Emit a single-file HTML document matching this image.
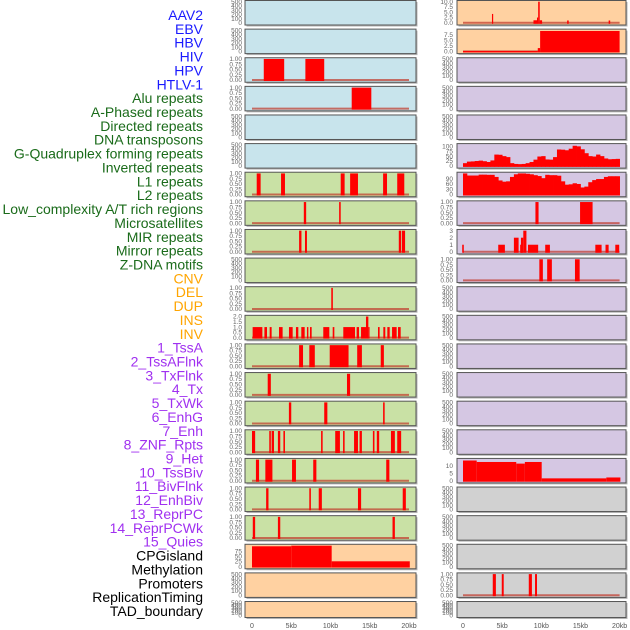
<!DOCTYPE html>
<html><head><meta charset="utf-8"><style>
html,body{margin:0;padding:0;background:#fff;}
svg{display:block;font-family:"Liberation Sans",sans-serif;}
</style></head><body>
<svg id="chart" width="630" height="630" viewBox="0 0 630 630" xmlns="http://www.w3.org/2000/svg"></svg>
<script>
// ---------- data ----------
const trackLabels = ["AAV2","EBV","HBV","HIV","HPV","HTLV-1","Alu repeats","A-Phased repeats","Directed repeats","DNA transposons","G-Quadruplex forming repeats","Inverted repeats","L1 repeats","L2 repeats","Low_complexity A/T rich regions","Microsatellites","MIR repeats","Mirror repeats","Z-DNA motifs","CNV","DEL","DUP","INS","INV","1_TssA","2_TssAFlnk","3_TxFlnk","4_Tx","5_TxWk","6_EnhG","7_Enh","8_ZNF_Rpts","9_Het","10_TssBiv","11_BivFlnk","12_EnhBiv","13_ReprPC","14_ReprPCWk","15_Quies","CPGisland","Methylation","Promoters","ReplicationTiming","TAD_boundary"];
const labelGroups = ["v","v","v","v","v","v","r","r","r","r","r","r","r","r","r","r","r","r","r","c","c","c","c","c","h","h","h","h","h","h","h","h","h","h","h","h","h","h","h","o","o","o","o","o"];
const xTickValues = [0,5,10,15,20];
const xTickLabels = ["0","5kb","10kb","15kb","20kb"];

// left column intervals (kb)
const hivIntervals = [[1.5,4.1],[6.8,9.2]];
const aluIntervals = [[12.7,15.2]];
const l1Intervals = [[0.6,1.1],[3.7,4.2],[11.3,11.8],[12.5,13.5],[16.7,17.2],[18.5,19.4]];
const row7Intervals = [[6.6,6.9],[11.1,11.3]];
const row8Intervals = [[6.0,6.3],[6.75,7.0],[18.7,19.0],[19.1,19.5]];
const row10Intervals = [[10.1,10.3]];
const insStarts = [0.08,1.58,2.25,3.44,4.71,5.6,6.28,7.0,7.39,9.08,10.28,11.63,13.33,13.89,14.52,14.82,16.05,16.73,17.24,17.84,18.6];
const insEnds   = [1.32,1.91,2.5,3.9,5.18,5.9,6.71,7.18,7.6,9.85,10.49,13.12,13.63,14.52,14.82,14.95,16.26,16.98,17.54,18.43,18.94];
const insValues = [1,1,1,1,1,1,1,1,1,1,1,1,1,1,2,1,1,1,1,1,1];
const tssAIntervals = [[6.0,6.5],[7.3,8.0],[9.9,12.3],[13.4,14.0],[16.4,16.8]];
const row13Intervals = [[2.0,2.4],[12.1,12.5]];
const row14Intervals = [[4.7,5.0],[9.2,9.6],[16.7,16.9]];
const row15Intervals = [[0.0,0.4],[2.2,2.4],[2.5,2.8],[3.3,3.6],[4.0,4.2],[8.8,9.0],[10.6,11.2],[11.6,11.8],[13.0,13.5],[13.7,14.0],[15.4,15.6],[15.9,16.2],[17.7,18.2],[18.5,19.0]];
const row16Intervals = [[0.5,0.9],[1.7,2.6],[5.1,5.6],[7.8,8.2],[17.1,17.5]];
const row17Intervals = [[1.8,2.1],[7.3,7.5],[8.5,8.9],[13.5,13.9],[19.2,19.6]];
const row18Intervals = [[0.1,0.4],[3.3,3.6],[17.9,18.2]];
const cpgStarts = [0,5,10.15];
const cpgEnds = [5,10.15,20.1];
const cpgValues = [100,103,26];

// right column
const aavStarts = [3.7,9.0,9.45,9.6,9.8,13.3,18.6];
const aavEnds = [3.85,9.45,9.6,9.8,10.1,13.5,18.8];
const aavValues = [4.2,1.2,2.5,10,1.2,1.1,1.1];
const ebvStarts = [0,9.55,9.85];
const ebvEnds = [9.55,9.85,20];
const ebvValues = [0.2,1.5,9.2];
const gquadBinValues = [14,22,23,25,27,24,20,28,58,57,50,45,14,10,9,10,14,20,32,48,50,33,32,45,84,83,80,88,103,100,85,65,50,48,58,50,38,34,35,36];
const l1DensityValues = [120,108,108,108,113,113,112,112,100,80,73,75,100,115,120,120,118,115,110,105,93,112,110,110,107,75,56,58,64,60,40,45,70,82,88,88,100,104,104,104];
const lowCompIntervals = [[9.25,9.65],[14.95,16.55]];
const mirStarts = [-0.1,4.5,6.5,7.3,7.4,7.7,8.3,10.5,16.9,18.2,19.45];
const mirEnds = [0.1,5.35,7.1,7.6,7.7,8.1,9.6,11.1,17.7,18.6,19.95];
const mirValues = [1,1,2,1,2,3,1,1,1,1,1];
const zdnaIntervals = [[9.75,10.2],[10.75,11.35],[14.3,14.9]];
const hetStarts = [0,1.75,6.8,7.9,10.05,18.3];
const hetEnds = [1.75,6.8,7.9,10.05,18.3,20.1];
const hetValues = [13.7,12.7,11.6,12.7,1.6,2.2];
const promoterIntervals = [[3.8,4.2],[4.95,5.2],[8.4,8.8],[9.2,9.45]];

// ---------- layout ----------
const svg = document.getElementById('chart');
const NS = "http://www.w3.org/2000/svg";
const rowPitch = 28.62;
const colDefs = [{x0:245,x1:416,origin:252,perKb:7.85,tickX:242},{x0:457,x1:626,origin:463,perKb:7.83,tickX:453}];
const bgColors = {b:"#c8e4ec",p:"#ffd1a1",u:"#d5c7e3",g:"#c9e1a5",y:"#d1d1d1"};
const leftBg = "bbbbbbgggggggggggggppp";
const rightBg = "ppuuuuuuuuuuuuuuuyyyyy";
const groupColors = {v:"#1a1aff",r:"#1a6b1a",c:"#ffa500",h:"#a030f0",o:"#000000"};

function mk(tag, attrs, parent){const e=document.createElementNS(NS,tag);for(const k in attrs)e.setAttribute(k,attrs[k]);(parent||svg).appendChild(e);return e;}
function rowTop(i){return 0.5+i*rowPitch;}
function rowH(i){return i===21?16:24.5;}
function xS(col,kb){const c=colDefs[col];return c.origin+kb*c.perKb;}
function yS(row,v,ymax){const t=rowTop(row)+1.2,b=rowTop(row)+rowH(row)-2.2;return b-(v/ymax)*(b-t);}

// labels
trackLabels.forEach((t,i)=>{
  const e=mk('text',{x:203,y:20+i*13.86,'text-anchor':'end','font-size':'14',fill:groupColors[labelGroups[i]]});
  e.textContent=t;
  
  
});

const panels = {};
function drawPanel(row,col){
  const c=colDefs[col],t=rowTop(row),h=rowH(row);
  const g=mk('g',{});
  
  
  mk('rect',{x:c.x0+1.5,y:t+1.5,width:c.x1-c.x0,height:h,fill:"#b5b5b5"},g);
  mk('rect',{x:c.x0,y:t,width:c.x1-c.x0,height:h,fill:bgColors[(col?rightBg:leftBg)[row]],stroke:"#555",'stroke-width':1},g);
  panels[row+'_'+col]=g;
  return g;
}
function ticks(row,col,vals,labels,ymax){
  const g=panels[row+'_'+col];
  vals.forEach((v,k)=>{
    const e=mk('text',{x:colDefs[col].tickX,y:yS(row,v,ymax)+2.2,'text-anchor':'end','font-size':'6.5',fill:"#666"},g);
    e.textContent=labels[k];
    
    
  });
}
function baseline(row,col,ymax){
  mk('line',{x1:xS(col,0),x2:xS(col,20),y1:yS(row,0,ymax),y2:yS(row,0,ymax),stroke:"#c0392b",'stroke-opacity':0.7,'stroke-width':2},panels[row+'_'+col]);
}
function bars(row,col,starts,ends,values,ymax){
  const g=panels[row+'_'+col];
  starts.forEach((s,k)=>{
    const x=xS(col,s),w=Math.max(1.2,xS(col,ends[k])-x),y=yS(row,values[k],ymax);
    const r=mk('rect',{x:x,y:y,width:w,height:yS(row,0,ymax)-y+1,fill:"#ff0000"},g);
    
    
  });
}
function intervals(row,col,list){
  bars(row,col,list.map(d=>d[0]),list.map(d=>d[1]),list.map(()=>1),1);
}
function binned(row,col,vals,ymax){
  bars(row,col,vals.map((v,k)=>k*0.5),vals.map((v,k)=>k*0.5+0.55),vals,ymax);
}
const binT=[0,0.25,0.5,0.75,1],binL=["0.00","0.25","0.50","0.75","1.00"];
const emT=[0,100,200,300,400,500],emL=["0","100","200","300","400","500"];

for(let r=0;r<22;r++){drawPanel(r,0);drawPanel(r,1);}

// left column
const leftBinary={2:hivIntervals,3:aluIntervals,6:l1Intervals,7:row7Intervals,8:row8Intervals,10:row10Intervals,12:tssAIntervals,13:row13Intervals,14:row14Intervals,15:row15Intervals,16:row16Intervals,17:row17Intervals,18:row18Intervals};
for(let r=0;r<22;r++){
  if(leftBinary[r]){baseline(r,0,1);intervals(r,0,leftBinary[r]);ticks(r,0,binT,binL,1);}
  else if(r===11){baseline(r,0,2);bars(r,0,insStarts,insEnds,insValues,2);ticks(r,0,[0,0.5,1,1.5,2],["0.0","0.5","1.0","1.5","2.0"],2);}
  else if(r===19){bars(r,0,cpgStarts,cpgEnds,cpgValues,104);ticks(r,0,[0,25,50,75],["0","25","50","75"],104);}
  else ticks(r,0,emT,emL,500);
}
// right column
const rightBinary={7:lowCompIntervals,9:zdnaIntervals,20:promoterIntervals};
for(let r=0;r<22;r++){
  if(rightBinary[r]){baseline(r,1,1);intervals(r,1,rightBinary[r]);ticks(r,1,binT,binL,1);}
  else if(r===0){baseline(r,1,10);bars(r,1,aavStarts,aavEnds,aavValues,10);ticks(r,1,[0,2.5,5,7.5,10],["0.0","2.5","5.0","7.5","10.0"],10);}
  else if(r===1){baseline(r,1,9.5);bars(r,1,ebvStarts,ebvEnds,ebvValues,9.5);ticks(r,1,[0,2.5,5,7.5],["0.0","2.5","5.0","7.5"],9.5);}
  else if(r===5){binned(r,1,gquadBinValues,108);ticks(r,1,[0,25,50,75,100],["0","25","50","75","100"],108);}
  else if(r===6){binned(r,1,l1DensityValues,120);ticks(r,1,[0,30,60,90],["0","30","60","90"],120);}
  else if(r===8){baseline(r,1,3);bars(r,1,mirStarts,mirEnds,mirValues,3);ticks(r,1,[0,1,2,3],["0","1","2","3"],3);}
  else if(r===16){bars(r,1,hetStarts,hetEnds,hetValues,14.3);ticks(r,1,[0,5,10],["0","5","10"],14.3);}
  else ticks(r,1,emT,emL,500);
}
// x axes
[0,1].forEach(col=>{
  const g=mk('g',{});
  
  
  xTickValues.forEach((v,k)=>{
    const e=mk('text',{x:xS(col,v),y:628,'text-anchor':'middle','font-size':'7',fill:"#555"},g);
    e.textContent=xTickLabels[k];
    
    
  });
});
</script>
</body></html>
